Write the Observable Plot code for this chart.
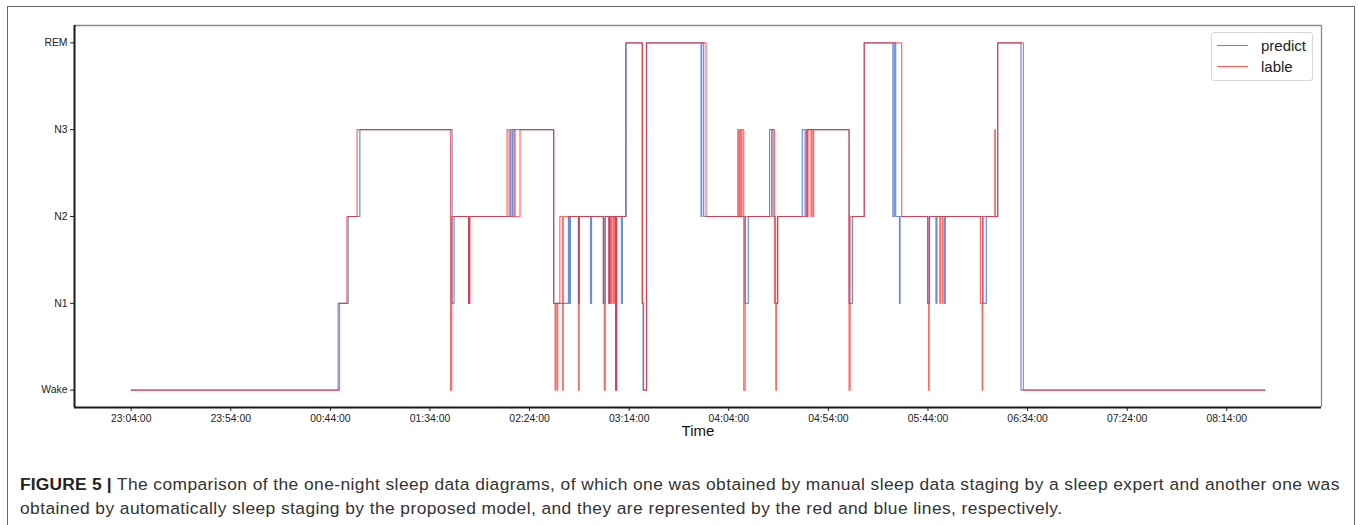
<!DOCTYPE html>
<html>
<head>
<meta charset="utf-8">
<script src="https://cdn.jsdelivr.net/npm/d3@7"></script>
<script src="https://cdn.jsdelivr.net/npm/@observablehq/plot@0.6"></script>
<style>
  html, body { margin: 0; padding: 0; background: #fff; }
  body { width: 1358px; height: 525px; position: relative; overflow: hidden; font-family: "Liberation Sans", Arial, sans-serif; }
  #border { position: absolute; left: 7px; top: 6px; width: 1348px; height: 560px; border: 1.5px solid #666; box-sizing: border-box; }
  #chart { position: absolute; left: 0; top: 0; }
  #legend { position: absolute; left: 1211px; top: 32px; width: 102px; height: 49px; border: 1px solid #d8d8d8; border-radius: 3px; background: rgba(255,255,255,0.85); box-sizing: border-box; }
  .lg { position: absolute; left: 0; height: 20px; width: 100px; }
  .lg span.sw { position: absolute; left: 5px; top: 9px; width: 31px; height: 0; border-top: 1.3px solid; }
  .lg span.tx { position: absolute; left: 49px; top: 0; font-size: 15px; color: #222; line-height: 20px; }
  #caption { position: absolute; left: 20px; top: 472px; width: 1336px; font-size: 17.4px; letter-spacing: 0.42px; line-height: 24px; color: #333; white-space: nowrap; }
  #caption b { color: #222; letter-spacing: 0.2px; }
</style>
</head>
<body>
<div id="border"></div>
<div id="chart"></div>
<div id="legend"></div>
<div id="caption"><b>FIGURE 5 |</b> The comparison of the one-night sleep data diagrams, of which one was obtained by manual sleep data staging by a sleep expert and another one was<br>obtained by automatically sleep staging by the proposed model, and they are represented by the red and blue lines, respectively.</div>
<script>
// Sleep stage codes: 0 Wake, 1 N1, 2 N2, 3 N3, 4 REM
const stageNames = ["Wake", "N1", "N2", "N3", "REM"];
const stageTicks = [0, 1, 2, 3, 4];

// x tick labels (every 50 minutes starting 23:04:00)
const tickLabels = ["23:04:00", "23:54:00", "00:44:00", "01:34:00", "02:24:00", "03:14:00",
                    "04:04:00", "04:54:00", "05:44:00", "06:34:00", "07:24:00", "08:14:00"];

// Recording: starts 23:04:00, lasts ~569 minutes
const recordStart = "23:04:00";
const recordMinutes = 569.1;

// "predict" (blue): minutes since start where stage changes, and new stage
const predictMin = [0, 103.9, 108.9, 114.8, 161.1, 162.1, 169.4, 169.9, 190.4, 191.2, 191.5,
  212.1, 219.5, 220.0, 220.5, 224.5, 225.0, 230.6, 231.1, 237.1, 237.8, 239.9, 240.4,
  243.2, 243.7, 246.1, 246.6, 248.5, 256.5, 257.0, 258.7, 286.1, 286.4, 287.4,
  308.2, 309.8, 320.5, 322.2, 323.5, 324.5, 336.9, 338.3, 339.3, 360.4, 362.1, 368.0,
  382.4, 383.1, 383.8, 385.7, 386.0, 400.0, 400.8, 404.0, 404.5, 408.2, 408.7,
  427.6, 429.3, 435.0, 446.7, 569.1];
const predictStage = [0, 1, 2, 3, 1, 2, 1, 2, 3, 2, 3,
  1, 2, 1, 2, 1, 2, 1, 2, 1, 2, 1, 2,
  0, 2, 1, 2, 4, 1, 0, 4, 2, 4, 2,
  1, 2, 3, 2, 1, 2, 3, 2, 3, 1, 2, 4,
  2, 4, 2, 1, 2, 1, 2, 1, 2, 1, 2,
  1, 2, 4, 0, 0];

// "lable" (red): minutes since start where stage changes, and new stage
const lableMin = [0, 104.6, 108.3, 113.4, 160.3, 160.9, 169.4, 170.0, 188.7, 189.7, 192.2, 192.7, 195.2,
  212.1, 212.8, 213.1, 213.8, 214.1, 215.2, 216.6, 216.9, 224.6, 224.9,
  237.0, 237.5, 238.0, 239.7, 240.2, 240.9, 241.4, 242.1, 242.6, 243.2, 243.7,
  248.2, 256.7, 257.2, 258.7, 288.6,
  304.5, 305.1, 305.6, 306.1, 306.6, 307.5, 308.2,
  321.5, 322.9, 323.6, 323.9, 324.6,
  338.9, 339.4, 339.8, 341.3, 341.6, 342.3, 342.6, 360.4, 360.9, 368.0, 386.8,
  399.8, 400.3, 400.6, 405.9, 406.2, 407.2, 407.5,
  426.3, 427.2, 427.5, 433.5, 433.8, 435.0, 447.9, 569.1];
const lableStage = [0, 1, 2, 3, 0, 2, 1, 2, 3, 2, 3, 2, 3,
  1, 0, 1, 0, 1, 2, 0, 2, 0, 2,
  1, 0, 2, 1, 2, 1, 2, 1, 2, 0, 2,
  4, 1, 0, 4, 2,
  3, 2, 3, 2, 3, 0, 2,
  3, 1, 0, 1, 2,
  3, 2, 3, 2, 3, 2, 3, 0, 2, 4, 2,
  1, 0, 2, 1, 2, 1, 2,
  1, 0, 2, 3, 2, 4, 0, 0];

// ---- build ----
const [h0, m0, s0] = recordStart.split(":").map(Number);
const t0 = Date.UTC(2020, 0, 1, h0, m0, s0);
const toDate = m => new Date(t0 + m * 60000);
const tickDates = tickLabels.map(s => {
  const [h, m, sec] = s.split(":").map(Number);
  const day = h < 12 ? 2 : 1;
  return new Date(Date.UTC(2020, 0, day, h, m, sec));
});
const pad = recordMinutes * 0.05;
const xDomain = [toDate(-pad), toDate(recordMinutes + pad)];
const yDomain = [-0.2, 4.2];

const predict = predictMin.map((m, i) => ({t: toDate(m), s: predictStage[i]}));
const lable = lableMin.map((m, i) => ({t: toDate(m), s: lableStage[i]}));

const BLUE = "#2d5fc0", RED = "#ff1a1a";

const chart = Plot.plot({
  width: 1358,
  height: 447,
  marginLeft: 74,
  marginRight: 37,
  marginTop: 25,
  marginBottom: 40,
  style: {fontFamily: "'Liberation Sans', Arial, sans-serif", fontSize: "10.4px", color: "#222", background: "transparent", overflow: "visible"},
  x: {type: "utc", domain: xDomain, ticks: tickDates, tickFormat: d3.utcFormat("%H:%M:%S"), tickSize: 4, tickPadding: 3, label: null},
  y: {domain: yDomain, ticks: stageTicks, tickFormat: d => stageNames[d], tickSize: 4, tickPadding: 3, label: null},
  marks: [
    Plot.ruleY([yDomain[1]], {stroke: "#8a8a8a", strokeWidth: 1.3}),
    Plot.ruleX([xDomain[1]], {stroke: "#8a8a8a", strokeWidth: 1.3}),
    Plot.line(predict, {x: "t", y: "s", curve: "step-after", stroke: BLUE, strokeOpacity: 0.7, strokeWidth: 1.2}),
    Plot.line(lable, {x: "t", y: "s", curve: "step-after", stroke: RED, strokeOpacity: 0.65, strokeWidth: 1.2}),
    Plot.ruleX([xDomain[0]], {stroke: "#1a1a1a", strokeWidth: 2}),
    Plot.ruleY([yDomain[0]], {stroke: "#1a1a1a", strokeWidth: 2}),
    Plot.text(["Time"], {text: d => d, frameAnchor: "bottom", dy: 28, fontSize: 15, fill: "#111"})
  ]
});
document.getElementById("chart").appendChild(chart);

// legend
const legend = document.getElementById("legend");
[["predict", BLUE, 0.75], ["lable", RED, 0.7]].forEach(([name, col, op], i) => {
  const row = document.createElement("div");
  row.className = "lg";
  row.style.top = (3 + i * 21) + "px";
  row.innerHTML = `<span class="sw" style="border-color:${col};opacity:${op}"></span><span class="tx">${name}</span>`;
  legend.appendChild(row);
});
</script>
</body>
</html>
